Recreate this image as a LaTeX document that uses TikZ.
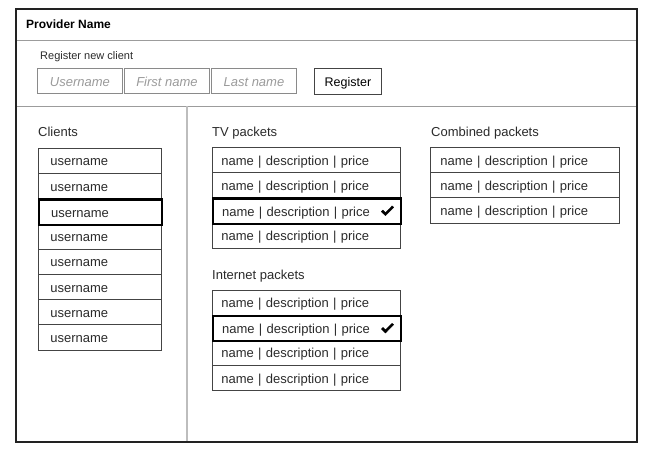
\documentclass[tikz,border=0pt]{standalone}
\usepackage{fontspec}
\setmainfont{Liberation Sans}
\definecolor{framec}{HTML}{222222}
\definecolor{rowc}{HTML}{444444}
\definecolor{inputc}{HTML}{8A8A8A}
\definecolor{phc}{HTML}{9A9A9A}
\definecolor{sepc}{HTML}{9C9C9C}
\definecolor{divc}{HTML}{BDBDBD}
\definecolor{txtc}{HTML}{2A2A2A}
\tikzset{
  lbl/.style={anchor=base west, inner sep=0pt, text=txtc, font=\fontsize{13}{15}\selectfont},
  rowbase/.style={draw=rowc, line width=0.8pt, anchor=north west, minimum height=25.2pt,
     align=left, text=txtc, font=\fontsize{13}{15}\selectfont, inner ysep=0pt,
     text height=12pt, text depth=2pt},
  crow/.style={rowbase, text width=99pt, inner xsep=12pt},
  prow/.style={rowbase, text width=170pt, inner xsep=9pt},
  mrow/.style={rowbase, text width=169pt, inner xsep=10pt},
  sel/.style={draw=black, line width=2.3pt},
  inbox/.style={draw=inputc, line width=0.9pt, anchor=north west, minimum width=85pt,
     minimum height=25pt, inner sep=0pt, text=phc, text height=11pt, text depth=1pt,
     font=\fontsize{13}{15}\selectfont\itshape},
  btn/.style={draw=rowc, line width=0.9pt, anchor=north west, minimum width=67pt,
     minimum height=26pt, inner sep=0pt, text=black, text height=11pt, text depth=1pt,
     font=\fontsize{12.5}{14}\selectfont},
  tick/.style={fill=black, draw=black, line width=0.3pt, line join=round}
}
\newcommand{\heavytick}[1]{%
  \fill[tick] ([xshift=-21pt,yshift=-0.5pt]#1.east) -- ([xshift=-19.4pt,yshift=1.1pt]#1.east)
    -- ([xshift=-16.8pt,yshift=-1.5pt]#1.east) -- ([xshift=-10.2pt,yshift=5.3pt]#1.east)
    -- ([xshift=-8.6pt,yshift=3.8pt]#1.east) -- ([xshift=-16.8pt,yshift=-4.6pt]#1.east) -- cycle;}
\begin{document}
\begin{tikzpicture}[x=1pt,y=-1pt]
\useasboundingbox (0,0) rectangle (649,452);
% frame and separators
\coordinate (hl) at (16,40.5); \coordinate (hr) at (637,40.5);
\coordinate (sl) at (16,106); \coordinate (sr) at (637,106);
\coordinate (dt) at (187,106); \coordinate (db) at (187,442);
\draw[sepc, line width=0.9pt] (hl) -- (hr);
\draw[sepc, line width=0.9pt] (sl) -- (sr);
\draw[divc, line width=1.2pt] (dt) -- (db);
\draw[framec, line width=2.2pt] (16,9) rectangle (637,442);
% header
\node[anchor=base west, inner sep=0pt, font=\fontsize{12}{14}\selectfont\bfseries] (title) at (26,28.5) {Provider Name};
\node[anchor=base west, inner sep=0pt, text=txtc, font=\fontsize{11}{13}\selectfont] (reg) at (40,60) {Register new client};
\node[inbox] (user) at (37,68.5) {Username};
\node[inbox] (first) at (124,68.5) {First name};
\node[inbox] (last) at (211,68.5) {Last name};
\node[btn] (regbtn) at (314,68.5) {Register};
% clients
\node[lbl] (clients) at (38,137) {Clients};
\node[crow] (c1) at (38,148) {username};
\node[crow] (c2) at (38,173.2) {username};
\node[crow] (c4) at (38,223.6) {username};
\node[crow] (c5) at (38,248.8) {username};
\node[crow] (c6) at (38,274) {username};
\node[crow] (c7) at (38,299.2) {username};
\node[crow] (c8) at (38,324.4) {username};
\node[crow, sel] (c3) at (38,198.4) {username};
% TV packets
\node[lbl] (tv) at (212,137) {TV packets};
\node[prow] (t1) at (212,147) {name | description | price};
\node[prow] (t2) at (212,172.2) {name | description | price};
\node[prow] (t4) at (212,222.6) {name | description | price};
\node[prow, sel] (t3) at (212,197.4) {name | description | price};
\heavytick{t3}
% Internet packets
\node[lbl] (inet) at (212,279.5) {Internet packets};
\node[prow] (i1) at (212,289.5) {name | description | price};
\node[prow] (i3) at (212,339.9) {name | description | price};
\node[prow] (i4) at (212,365.1) {name | description | price};
\node[prow, sel] (i2) at (212,314.7) {name | description | price};
\heavytick{i2}
% Combined packets
\node[lbl] (comb) at (431,137) {Combined packets};
\node[mrow] (m1) at (430,147) {name | description | price};
\node[mrow] (m2) at (430,172.2) {name | description | price};
\node[mrow] (m3) at (430,197.4) {name | description | price};
\end{tikzpicture}
\end{document}
